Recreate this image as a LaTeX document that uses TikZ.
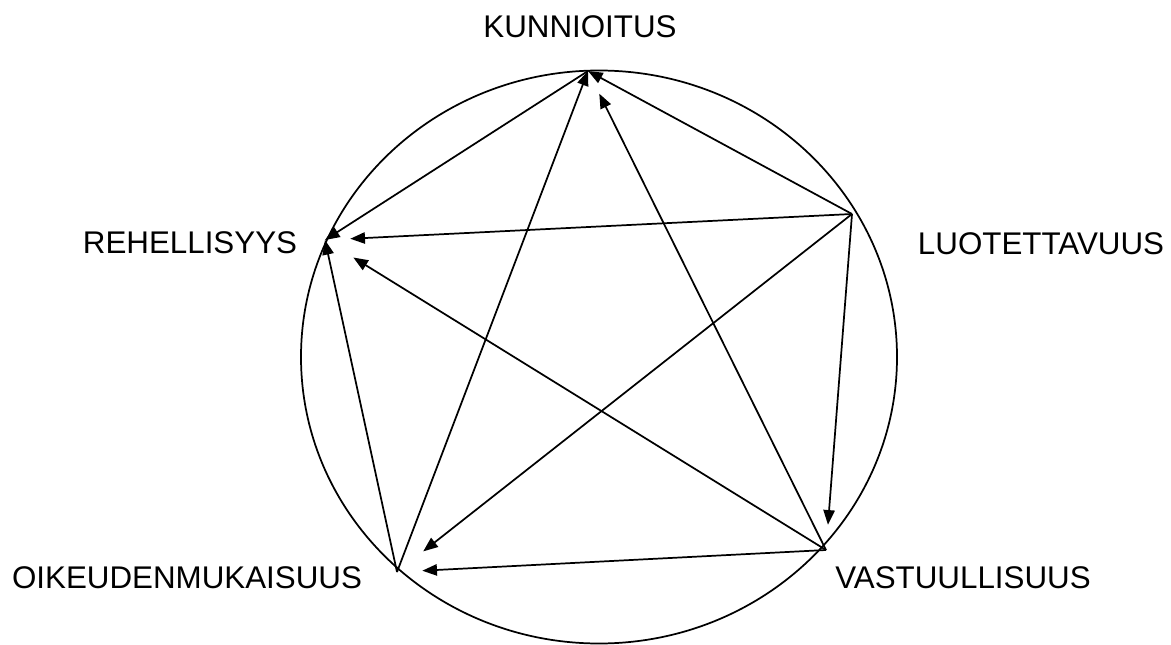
\documentclass[tikz,border=0pt]{standalone}
\usepackage{fontspec}
\setmainfont{Liberation Sans}
\usepackage{tikz}
\usetikzlibrary{arrows.meta}

\begin{document}
\begin{tikzpicture}[
    x=0.75pt, y=-0.75pt,
    value/.style={
        font=\fontsize{23.5}{26}\selectfont,
        inner sep=0pt
    },
    arrow/.style={
        -{Triangle[length=11pt,width=8.5pt]},
        line width=1.3pt
    },
    inner/.style={
        arrow,
        shorten >=19pt
    }
]
\useasboundingbox (0,0) rectangle (1171,645);

% circle
\draw[line width=1.3pt] (599,357) ellipse (298 and 286.5);

% corner points
\coordinate (K) at (588,71);
\coordinate (L) at (852,214);
\coordinate (V) at (826,550);
\coordinate (O) at (397,572);
\coordinate (R) at (325,240);

% labels
\node[value] (kunn) at (580,27) {KUNNIOITUS};
\node[value] (luot) at (1041,244) {LUOTETTAVUUS};
\node[value] (vast) at (963,578) {VASTUULLISUUS};
\node[value] (oike) at (187,578) {OIKEUDENMUKAISUUS};
\node[value] (rehe) at (190,243) {REHELLISYYS};

% outer lines
\draw[arrow] (L) -- (K);
\draw[inner] (L) -- (V);
\draw[inner] (V) -- (O);
\draw[arrow] (O) -- (R);
\draw[arrow] (K) -- (R);

% star lines
\draw[inner] (L) -- (R);
\draw[inner, shorten >=25pt] (L) -- (O);
\draw[inner] (V) -- (K);
\draw[inner, shorten >=25pt] (V) -- (R);
\draw[arrow] (O) -- (K);
\end{tikzpicture}
\end{document}
